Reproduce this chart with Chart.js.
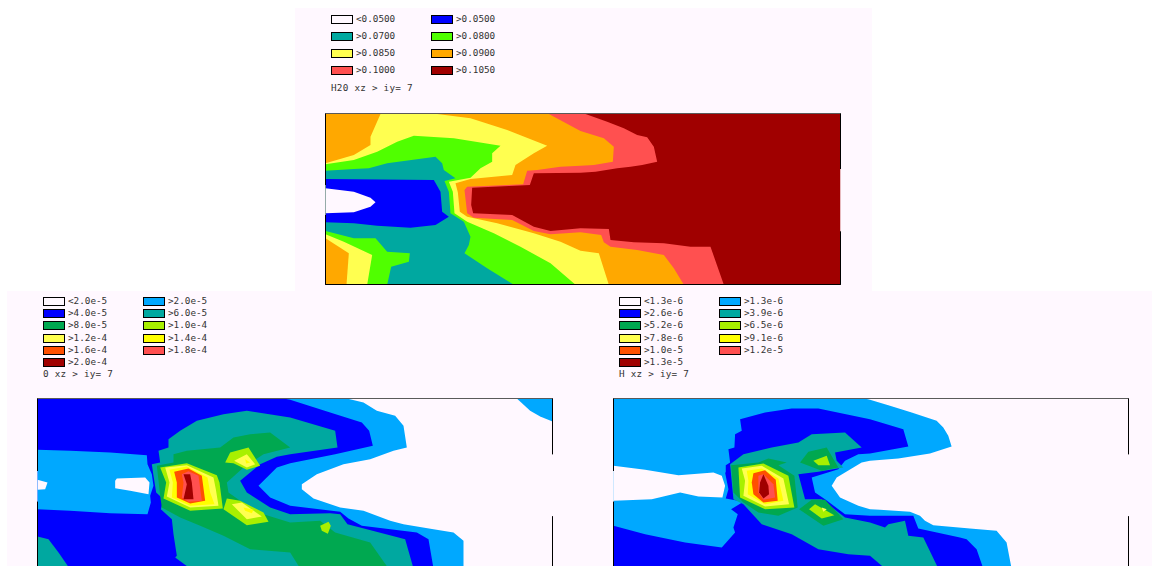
<!DOCTYPE html>
<html>
<head>
<meta charset="utf-8">
<title>xz contours</title>
<script src="https://cdn.jsdelivr.net/npm/chart.js@4/dist/chart.umd.min.js"></script>
<style>
  html, body { margin: 0; width: 1152px; height: 566px; overflow: hidden; background: #fff; }
  .bg { position: absolute; background: #fff8ff; }
  canvas { position: absolute; }
  .sw { position: absolute; width: 20px; height: 7px; border: 1px solid #000; }
  .tx { position: absolute; font: 9.3px/12px "DejaVu Sans Mono", monospace; color: #333; white-space: pre; }
  .tt { letter-spacing: .25px; }
</style>
</head>
<body>
<div class="bg" style="left:295px;top:8px;width:577px;height:283px"></div>
<div class="bg" style="left:7px;top:291px;width:1145px;height:275px"></div>
<canvas id="h2o" width="520" height="176" style="left:323px;top:111px"></canvas>
<canvas id="oxy" width="520" height="175" style="left:35px;top:396px"></canvas>
<canvas id="hyd" width="520" height="175" style="left:611px;top:396px"></canvas>
<script>
// ---------- Legends ----------
const h2oLabels = ['<0.0500','>0.0500','>0.0700','>0.0800','>0.0850','>0.0900','>0.1000','>0.1050'];
const oxyLabels = ['<2.0e-5','>2.0e-5','>4.0e-5','>6.0e-5','>8.0e-5','>1.0e-4','>1.2e-4','>1.4e-4','>1.6e-4','>1.8e-4','>2.0e-4'];
const hydLabels = ['<1.3e-6','>1.3e-6','>2.6e-6','>3.9e-6','>5.2e-6','>6.5e-6','>7.8e-6','>9.1e-6','>1.0e-5','>1.2e-5','>1.3e-5'];
const h2oColors = ['#fff8ff','#0000ff','#00a8a0','#50ff00','#ffff50','#ffa800','#ff5050','#a00000'];
const speciesColors = ['#fff8ff','#00a8ff','#0000ff','#00a8a0','#00a850','#a8f000','#ffff50','#ffff00','#ff5000','#ff5050','#a00000'];

// ---------- H2O contours (grid units) ----------
const h2oTop = [15,27, 1560,27, 1560,539, 15,539];
const h2oRed = [15,27, 795,27, 860,50, 910,70, 950,90, 980,97, 1000,125, 1010,170, 965,180, 930,185, 890,190, 825,200, 780,203, 640,205, 628,240, 455,248, 452,300, 458,325, 575,330, 640,365, 690,378, 780,370, 865,372, 870,405, 940,412, 1030,415, 1110,425, 1170,425, 1210,539, 15,539];
const h2oOrange = [15,27, 685,27, 780,78, 850,100, 880,125, 877,170, 820,180, 780,182, 720,185, 650,195, 620,197, 608,238, 440,245, 432,255, 440,325, 460,338, 575,345, 640,378, 690,388, 780,382, 842,390, 850,412, 870,425, 950,435, 1030,450, 1060,490, 1090,539, 15,539];
const h2oYellow = [15,27, 350,27, 450,40, 560,75, 680,122, 640,145, 585,180, 575,210, 450,222, 405,235, 412,262, 418,320, 440,335, 530,355, 640,385, 720,410, 780,437, 835,445, 865,539, 15,539];
const h2oOrangeNW = [15,27, 180,27, 150,95, 150,120, 100,150, 15,175];
const h2oOrangeSW = [15,400, 85,445, 78,539, 15,539];
const h2oGreen = [15,178, 100,165, 170,140, 230,110, 280,92, 400,100, 540,122, 515,145, 515,170, 480,190, 450,218, 385,230, 397,260, 402,325, 440,350, 520,385, 600,425, 690,475, 765,539, 140,539, 155,450, 70,410, 15,388];
const h2oTeal = [15,197, 100,192, 145,190, 200,175, 345,155, 365,175, 370,195, 405,220, 372,228, 385,260, 390,325, 430,350, 450,395, 445,420, 432,445, 500,490, 580,539, 200,539, 212,485, 265,470, 268,445, 200,440, 165,400, 100,400, 15,378];
const h2oBlue = [15,222, 340,225, 360,260, 365,320, 385,335, 345,360, 270,368, 170,362, 100,355, 15,352];
const h2oWhite = [15,250, 100,260, 150,278, 165,292, 150,305, 100,322, 15,325];

// ---------- O contours ----------
const oxyLight = [22,18, 950,18, 1000,30, 1040,55, 1095,70, 1120,100, 1130,165, 1090,175, 1020,200, 940,215, 860,245, 815,275, 815,290, 850,318, 930,345, 1000,355, 1080,385, 1120,395, 1210,410, 1270,420, 1300,445, 1300,528, 22,528];
const oxyLightNE = [1460,18, 1500,55, 1530,72, 1567,87, 1567,18];
const oxyBlue = [22,18, 760,18, 780,22, 900,60, 995,90, 1017,115, 1028,160, 915,185, 780,212, 740,225, 685,280, 720,315, 780,340, 930,358, 955,378, 995,400, 1160,420, 1195,440, 1210,528, 22,528];
const oxyBar = [22,172, 120,175, 240,180, 350,188, 352,215, 365,245, 370,280, 360,310, 362,330, 352,365, 240,362, 120,355, 22,350];
const oxyGapW = [22,262, 52,270, 45,290, 22,292];
const oxyGapC = [255,265, 260,258, 345,255, 358,270, 355,305, 300,295, 255,287];
const oxyTeal = [650,55, 780,75, 915,115, 922,165, 780,185, 740,193, 690,215, 630,265, 650,300, 720,345, 780,365, 900,362, 930,365, 952,395, 1010,410, 1125,440, 1150,528, 480,528, 435,495, 440,490, 430,425, 425,380, 392,350, 400,320, 378,300, 370,250, 365,215, 390,210, 385,175, 415,165, 415,140, 450,115, 500,85, 580,65];
const oxyTealSW = [22,432, 55,440, 85,480, 118,528, 22,528];
const oxyGreen = [430,185, 470,175, 570,165, 610,135, 660,125, 720,120, 780,165, 700,185, 640,225, 590,270, 595,300, 630,325, 700,365, 780,390, 870,385, 915,420, 1020,450, 1075,528, 810,528, 780,480, 660,470, 580,430, 510,400, 450,375, 395,345, 390,310, 380,220, 430,210];
const oxyCore = [
  [390,225, 470,212, 560,248, 568,270, 578,348, 480,355, 400,318, 408,270],
  [405,225, 470,218, 550,255, 557,290, 565,340, 480,345, 410,312, 418,270],
  [418,232, 470,222, 532,255, 540,300, 553,335, 480,340, 425,315, 428,270],
  [432,238, 475,228, 515,250, 525,325, 480,333, 440,315, 440,270],
  [455,245, 475,236, 505,250, 515,325, 475,328, 455,315, 460,270],
  [460,245, 480,245, 485,270, 490,320, 460,320, 470,275]
];
const oxyNorth = [
  [585,210, 600,180, 655,165, 690,220, 650,232, 610,212],
  [612,205, 650,185, 675,215, 650,225],
  [645,200, 660,210, 648,213]
];
const oxySouth = [
  [580,350, 590,318, 630,325, 700,360, 715,388, 650,398],
  [605,335, 635,330, 695,372, 650,380],
  [640,345, 670,352, 665,362, 645,355]
];
const oxyFleck = [870,400, 895,388, 902,400, 893,424, 875,415];

// ---------- H contours ----------
const hydLight = [25,18, 780,18, 795,22, 855,40, 920,60, 995,85, 1015,105, 1030,130, 1040,162, 975,183, 880,198, 795,205, 770,210, 745,225, 695,255, 680,280, 705,315, 760,340, 795,350, 825,352, 915,358, 945,370, 960,385, 985,398, 1095,408, 1175,415, 1205,450, 1220,528, 25,528];
const hydBlue = [405,80, 480,60, 560,48, 640,48, 795,80, 895,110, 910,162, 795,183, 760,185, 720,205, 700,230, 620,255, 630,300, 660,320, 720,365, 795,370, 925,370, 940,408, 1065,435, 1085,440, 1115,470, 1135,528, 25,528, 25,400, 120,425, 240,450, 350,465, 368,445, 390,420, 385,405, 398,365, 378,350, 415,328, 362,318, 370,290, 360,240, 362,218, 375,210, 370,170, 388,165, 390,125, 410,115];
const hydGap = [25,220, 120,232, 220,248, 325,240, 350,250, 360,280, 352,315, 280,312, 225,300, 140,320, 25,325];
const hydTeal = [415,185, 500,165, 580,150, 620,125, 720,120, 770,165, 690,180, 695,205, 715,225, 640,238, 580,245, 600,320, 650,320, 720,375, 795,390, 840,405, 850,395, 900,385, 910,430, 955,435, 1000,528, 840,528, 795,490, 730,485, 640,470, 560,425, 470,395, 415,335, 385,320, 375,215];
const hydCore = [
  [378,218, 460,210, 490,198, 545,210, 520,218, 568,250, 578,345, 520,370, 460,360, 415,330, 385,300],
  [400,225, 475,213, 550,250, 568,345, 480,350, 405,315],
  [410,228, 470,220, 535,258, 552,335, 480,342, 415,310, 420,265],
  [425,235, 470,228, 520,258, 535,325, 480,335, 428,305, 430,265],
  [445,242, 480,233, 512,262, 518,325, 475,330, 445,305, 440,270],
  [460,250, 475,245, 505,275, 510,315, 475,322, 460,300],
  [475,245, 490,280, 492,305, 475,318, 462,300, 465,270]
];
const hydNorth = [[585,210, 610,178, 665,165, 700,225, 650,235], [625,205, 665,190, 675,218, 640,218]];
const hydSouth = [[582,350, 620,322, 660,322, 715,380, 655,400], [612,350, 630,335, 688,368, 650,378], [650,345, 665,350, 655,358]];

// ---------- Frames (open where the inlet and outlet are) ----------
const h2oFrame = { x: [15,1560], y: [25.5,538.5], left: [[25.5,240],[330,538.5]], right: [[25.5,192],[380,538.5]] };
const oxyFrame = { x: [22,1567], y: [18,528], left: [[18,235],[328,528]], right: [[18,185],[372,528]] };
const hydFrame = { x: [25,1571], y: [18,528], left: [[18,235],[328,528]], right: [[18,185],[372,528]] };

function toPoints(flat) {
  const pts = [];
  for (let i = 0; i < flat.length; i += 2) pts.push({ x: flat[i], y: flat[i + 1] });
  pts.push({ x: flat[0], y: flat[1] }); // close the shape
  return pts;
}

function frameLines(f) {
  const [x0, x1] = f.x, [y0, y1] = f.y;
  const seg = (pts, color) => ({ data: pts, showLine: true, fill: false, borderColor: color, borderWidth: 1, pointRadius: 0, clip: false });
  const out = [
    seg([{ x: x0, y: y0 }, { x: x1, y: y0 }], '#5a5a5a'),
    seg([{ x: x0, y: y1 }, { x: x1, y: y1 }], '#000')
  ];
  f.left.forEach(s => out.push(seg([{ x: x0, y: s[0] }, { x: x0, y: s[1] }], '#000')));
  f.right.forEach(s => out.push(seg([{ x: x1, y: s[0] }, { x: x1, y: s[1] }], '#000')));
  return out;
}

function drawPanel(id, layers, frame) {
  const shapes = layers.map(l => ({
    data: toPoints(l[1]), showLine: true, fill: 'shape', tension: 0,
    backgroundColor: l[0], borderColor: l[0], borderWidth: 0, pointRadius: 0
  }));
  // later layers paint over earlier ones, Chart.js draws dataset 0 last
  const datasets = frameLines(frame).concat(shapes.reverse());
  new Chart(document.getElementById(id), {
    type: 'scatter',
    data: { datasets },
    options: {
      responsive: false, animation: false,
      layout: { padding: 2.5 },
      plugins: { legend: { display: false }, tooltip: { enabled: false } },
      scales: {
        x: { type: 'linear', display: false, min: frame.x[0], max: frame.x[1] },
        y: { type: 'linear', display: false, reverse: true, min: frame.y[0], max: frame.y[1] }
      }
    }
  });
}

function drawLegend(labels, colors, x0, x1, rows, titleY, title) {
  labels.forEach((t, i) => {
    const col = i % 2 ? x1 : x0;
    const cy = rows[Math.floor(i / 2)];
    const sw = document.createElement('div');
    sw.className = 'sw';
    sw.style.cssText = `left:${col}px;top:${cy - 4}px;background:${colors[i]}`;
    document.body.appendChild(sw);
    const tx = document.createElement('div');
    tx.className = 'tx';
    tx.style.cssText = `left:${col + 25}px;top:${cy - 6}px`;
    tx.textContent = t;
    document.body.appendChild(tx);
  });
  const tt = document.createElement('div');
  tt.className = 'tx tt';
  tt.style.cssText = `left:${x0}px;top:${titleY - 6}px`;
  tt.textContent = title;
  document.body.appendChild(tt);
}

const c = h2oColors, s = speciesColors;
drawPanel('h2o', [
  [c[7], h2oTop], [c[6], h2oRed], [c[5], h2oOrange], [c[4], h2oYellow],
  [c[5], h2oOrangeNW], [c[5], h2oOrangeSW], [c[3], h2oGreen], [c[2], h2oTeal], [c[1], h2oBlue], [c[0], h2oWhite]
], h2oFrame);

drawPanel('oxy', [
  [s[1], oxyLight], [s[1], oxyLightNE], [s[2], oxyBlue], [s[1], oxyBar], [s[0], oxyGapW], [s[0], oxyGapC],
  [s[3], oxyTeal], [s[3], oxyTealSW], [s[4], oxyGreen],
  [s[5], oxyCore[0]], [s[6], oxyCore[1]], [s[7], oxyCore[2]], [s[8], oxyCore[3]], [s[9], oxyCore[4]], [s[10], oxyCore[5]],
  [s[5], oxyNorth[0]], [s[6], oxyNorth[1]], [s[7], oxyNorth[2]],
  [s[5], oxySouth[0]], [s[6], oxySouth[1]], [s[7], oxySouth[2]], [s[5], oxyFleck]
], oxyFrame);

drawPanel('hyd', [
  [s[1], hydLight], [s[2], hydBlue], [s[0], hydGap], [s[3], hydTeal],
  [s[4], hydCore[0]], [s[5], hydCore[1]], [s[6], hydCore[2]], [s[7], hydCore[3]], [s[8], hydCore[4]], [s[9], hydCore[5]], [s[10], hydCore[6]],
  [s[4], hydNorth[0]], [s[5], hydNorth[1]],
  [s[4], hydSouth[0]], [s[5], hydSouth[1]], [s[6], hydSouth[2]]
], hydFrame);

drawLegend(h2oLabels, c, 331, 431, [19, 36, 53, 70], 88, 'H20 xz > iy= 7');
drawLegend(oxyLabels, s, 43, 143, [301, 313, 325, 338, 350, 362], 374, '0 xz > iy= 7');
drawLegend(hydLabels, s, 619, 719, [301, 313, 325, 338, 350, 362], 374, 'H xz > iy= 7');
</script>
</body>
</html>
